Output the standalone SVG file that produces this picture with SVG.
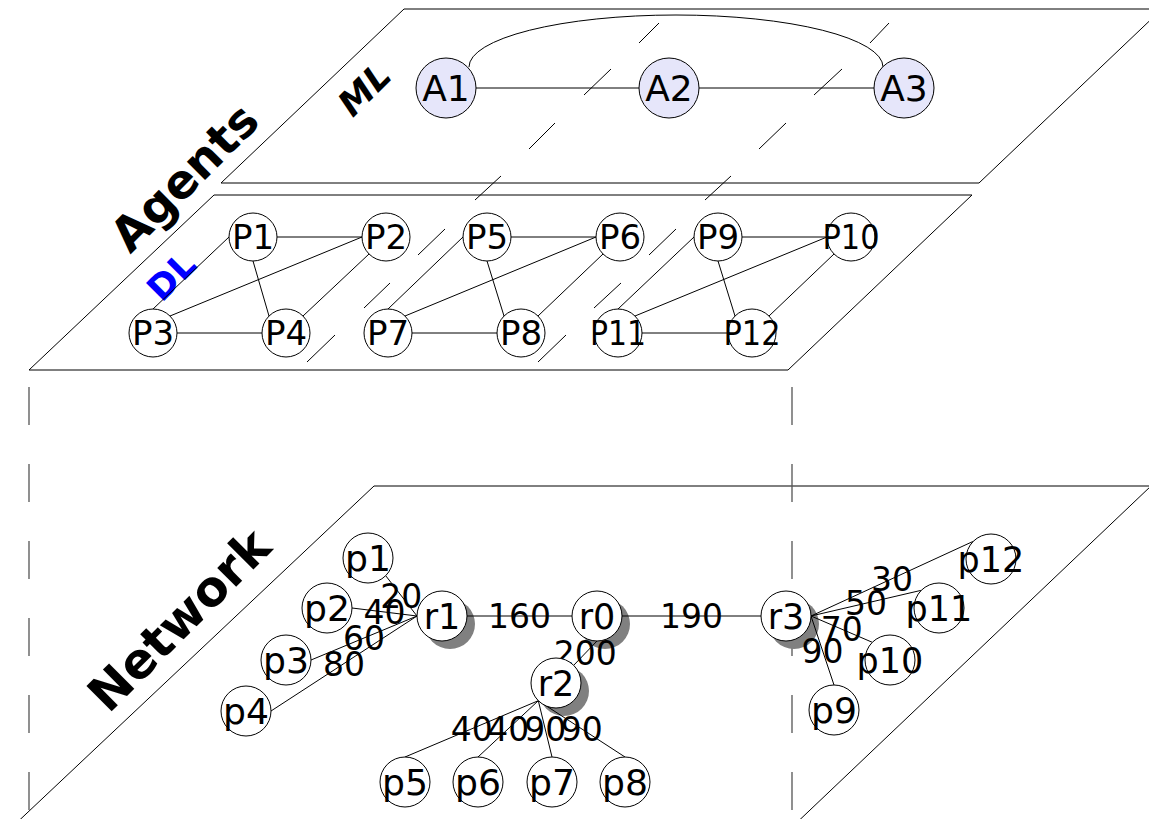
<svg xmlns="http://www.w3.org/2000/svg" width="1149" height="819" viewBox="0 0 1149 819">
<style>
.plane{fill:none;stroke:#000;stroke-width:1}
.vdash{fill:none;stroke:#555;stroke-width:1.3;stroke-dasharray:38 39}
.sdash{fill:none;stroke:#000;stroke-width:1}
.edge{fill:none;stroke:#000;stroke-width:1}
.node circle{fill:#fff;stroke:#000;stroke-width:1}
.agent circle{fill:#e6e6fa}
.shadow{fill:#808080;stroke:none}
text{font-family:"DejaVu Sans","Liberation Sans",sans-serif;fill:#000}
.al{font-size:36px;text-anchor:middle}
.nl{font-size:35px;text-anchor:middle}
.dl{font-size:34px;text-anchor:middle}
.el{font-size:33px;text-anchor:middle}
.big{font-weight:bold;text-anchor:middle}
</style>
<rect x="0" y="0" width="1149" height="819" fill="#fff"/>

<g id="planes">
<polygon class="plane" points="221,183 404,9 1162,9 979,183"/>
<polygon class="plane" points="29,370 214,195 972,195 788,370"/>
<polygon class="plane" points="9,830 374,486 1151,486 789,830"/>
<line class="vdash" x1="29" y1="387" x2="29" y2="830"/>
<line class="vdash" x1="792" y1="387" x2="792" y2="830"/>
<path class="sdash" d="M659,23L639,43M611,69L584,95M555,123L529,149M501,176L475,200M445,229L418,255M390,283L364,308M335,335L307,362M889,23L870,43M842,69L814,95M786,123L759,149M731,176L705,200M676,229L649,255M621,283L594,308M566,335L538,362"/>
</g>

<g id="titles">
<text class="big" font-size="47" x="196" y="189" transform="rotate(-45 196 189)">Agents</text>
<text class="big" font-size="35" font-style="italic" x="373" y="98" transform="rotate(-45 373 98)">ML</text>
<text class="big" font-size="35" style="fill:#0000ff" x="180" y="285" transform="rotate(-45 180 285)">DL</text>
<text class="big" font-size="49" x="191" y="632" transform="rotate(-45 191 632)">Network</text>
</g>

<g id="shadows">
<circle class="shadow" cx="450" cy="624" r="25"/>
<circle class="shadow" cx="605" cy="624" r="25"/>
<circle class="shadow" cx="564" cy="691" r="25"/>
<circle class="shadow" cx="794" cy="624" r="25"/>
</g>

<g id="connectors">
<path class="edge" d="M469,67A207 52 0 0 1 883,67"/>
<line class="edge" x1="476" y1="88" x2="639" y2="88"/>
<line class="edge" x1="699" y1="88" x2="874" y2="88"/>

<line class="edge" x1="277" y1="237" x2="362" y2="237"/>
<line class="edge" x1="229" y1="237" x2="153" y2="309"/>
<line class="edge" x1="253" y1="261" x2="269" y2="316"/>
<line class="edge" x1="362" y1="237" x2="170" y2="316"/>
<line class="edge" x1="369" y1="254" x2="303" y2="316"/>
<line class="edge" x1="177" y1="333" x2="262" y2="333"/>

<line class="edge" x1="511" y1="237" x2="596" y2="237"/>
<line class="edge" x1="463" y1="237" x2="388" y2="309"/>
<line class="edge" x1="487" y1="261" x2="504" y2="316"/>
<line class="edge" x1="596" y1="237" x2="405" y2="316"/>
<line class="edge" x1="603" y1="254" x2="538" y2="316"/>
<line class="edge" x1="412" y1="333" x2="497" y2="333"/>

<line class="edge" x1="742" y1="237" x2="827" y2="237"/>
<line class="edge" x1="694" y1="237" x2="618" y2="309"/>
<line class="edge" x1="718" y1="261" x2="735" y2="316"/>
<line class="edge" x1="827" y1="237" x2="635" y2="316"/>
<line class="edge" x1="834" y1="254" x2="769" y2="316"/>
<line class="edge" x1="642" y1="333" x2="728" y2="333"/>

<line class="edge" x1="385.7" y1="575.7" x2="417" y2="616"/>
<line class="edge" x1="352" y1="608" x2="417" y2="616"/>
<line class="edge" x1="311" y1="660" x2="417" y2="616"/>
<line class="edge" x1="271" y1="711" x2="417" y2="616"/>
<line class="edge" x1="467" y1="616" x2="572" y2="616"/>
<line class="edge" x1="622" y1="616" x2="761" y2="616"/>
<line class="edge" x1="597" y1="641" x2="573.7" y2="665.3"/>
<line class="edge" x1="538.3" y1="700.7" x2="405" y2="757"/>
<line class="edge" x1="538.3" y1="700.7" x2="478" y2="757"/>
<line class="edge" x1="538.3" y1="700.7" x2="552" y2="757"/>
<line class="edge" x1="538.3" y1="700.7" x2="625" y2="757"/>
<line class="edge" x1="811" y1="616" x2="973.3" y2="541.3"/>
<line class="edge" x1="811" y1="616" x2="921.3" y2="590.3"/>
<line class="edge" x1="811" y1="616" x2="872.3" y2="642.3"/>
<line class="edge" x1="811" y1="616" x2="834" y2="685"/>

<text class="el" x="401.3" y="607.8">20</text>
<text class="el" x="384.5" y="624">40</text>
<text class="el" x="364" y="650">60</text>
<text class="el" x="344" y="675.5">80</text>
<text class="el" x="519.5" y="628">160</text>
<text class="el" x="691.5" y="628">190</text>
<text class="el" x="585.3" y="665">200</text>
<text class="el" x="471.7" y="740.9">40</text>
<text class="el" x="508.2" y="740.9">40</text>
<text class="el" x="545.2" y="740.9">90</text>
<text class="el" x="581.7" y="740.9">90</text>
<text class="el" x="892" y="590.7">30</text>
<text class="el" x="866" y="615">50</text>
<text class="el" x="841.7" y="641">70</text>
<text class="el" x="822.5" y="662.5">90</text>
</g>

<g id="A1" class="node agent"><circle cx="446" cy="88" r="30"/><text class="al" x="446" y="101">A1</text></g>
<g id="A2" class="node agent"><circle cx="669" cy="88" r="30"/><text class="al" x="669" y="101">A2</text></g>
<g id="A3" class="node agent"><circle cx="904" cy="88" r="30"/><text class="al" x="904" y="101">A3</text></g>

<g id="P1" class="node"><circle cx="253" cy="237" r="24"/><text class="dl" x="253" y="249.4">P1</text></g>
<g id="P2" class="node"><circle cx="386" cy="237" r="24"/><text class="dl" x="386" y="249.4">P2</text></g>
<g id="P3" class="node"><circle cx="153" cy="333" r="24"/><text class="dl" x="153" y="345.4">P3</text></g>
<g id="P4" class="node"><circle cx="286" cy="333" r="24"/><text class="dl" x="286" y="345.4">P4</text></g>
<g id="P5" class="node"><circle cx="487" cy="237" r="24"/><text class="dl" x="487" y="249.4">P5</text></g>
<g id="P6" class="node"><circle cx="620" cy="237" r="24"/><text class="dl" x="620" y="249.4">P6</text></g>
<g id="P7" class="node"><circle cx="388" cy="333" r="24"/><text class="dl" x="388" y="345.4">P7</text></g>
<g id="P8" class="node"><circle cx="521" cy="333" r="24"/><text class="dl" x="521" y="345.4">P8</text></g>
<g id="P9" class="node"><circle cx="718" cy="237" r="24"/><text class="dl" x="718" y="249.4">P9</text></g>
<g id="P10" class="node"><circle cx="851" cy="237" r="24"/><text class="dl" x="851" y="249.4" textLength="57" lengthAdjust="spacingAndGlyphs">P10</text></g>
<g id="P11" class="node"><circle cx="618" cy="333" r="24"/><text class="dl" x="618" y="345.4" textLength="56" lengthAdjust="spacingAndGlyphs">P11</text></g>
<g id="P12" class="node"><circle cx="752" cy="333" r="24"/><text class="dl" x="752" y="345.4" textLength="57" lengthAdjust="spacingAndGlyphs">P12</text></g>

<g id="r1" class="node"><circle cx="442" cy="616" r="25"/><text class="nl" x="442" y="628.7">r1</text></g>
<g id="r0" class="node"><circle cx="597" cy="616" r="25"/><text class="nl" x="597" y="628.7">r0</text></g>
<g id="r2" class="node"><circle cx="556" cy="683" r="25"/><text class="nl" x="556" y="695.7">r2</text></g>
<g id="r3" class="node"><circle cx="786" cy="616" r="25"/><text class="nl" x="786" y="628.7">r3</text></g>
<g id="p1" class="node"><circle cx="368" cy="558" r="25"/><text class="nl" x="368" y="570.7" textLength="46" lengthAdjust="spacingAndGlyphs">p1</text></g>
<g id="p2" class="node"><circle cx="327" cy="608" r="25"/><text class="nl" x="327" y="620.7" textLength="46" lengthAdjust="spacingAndGlyphs">p2</text></g>
<g id="p3" class="node"><circle cx="286" cy="660" r="25"/><text class="nl" x="286" y="672.7" textLength="46" lengthAdjust="spacingAndGlyphs">p3</text></g>
<g id="p4" class="node"><circle cx="246" cy="711" r="25"/><text class="nl" x="246" y="723.7" textLength="46" lengthAdjust="spacingAndGlyphs">p4</text></g>
<g id="p5" class="node"><circle cx="405" cy="782" r="25"/><text class="nl" x="405" y="794.7" textLength="46" lengthAdjust="spacingAndGlyphs">p5</text></g>
<g id="p6" class="node"><circle cx="478" cy="782" r="25"/><text class="nl" x="478" y="794.7" textLength="46" lengthAdjust="spacingAndGlyphs">p6</text></g>
<g id="p7" class="node"><circle cx="552" cy="782" r="25"/><text class="nl" x="552" y="794.7" textLength="46" lengthAdjust="spacingAndGlyphs">p7</text></g>
<g id="p8" class="node"><circle cx="625" cy="782" r="25"/><text class="nl" x="625" y="794.7" textLength="46" lengthAdjust="spacingAndGlyphs">p8</text></g>
<g id="p9" class="node"><circle cx="834" cy="710" r="25"/><text class="nl" x="834" y="722.7" textLength="46" lengthAdjust="spacingAndGlyphs">p9</text></g>
<g id="p10" class="node"><circle cx="890" cy="660" r="25"/><text class="nl" x="890" y="672.7">p10</text></g>
<g id="p11" class="node"><circle cx="939" cy="608" r="25"/><text class="nl" x="939" y="620.7">p11</text></g>
<g id="p12" class="node"><circle cx="991" cy="559" r="25"/><text class="nl" x="991" y="571.7">p12</text></g>
</svg>
